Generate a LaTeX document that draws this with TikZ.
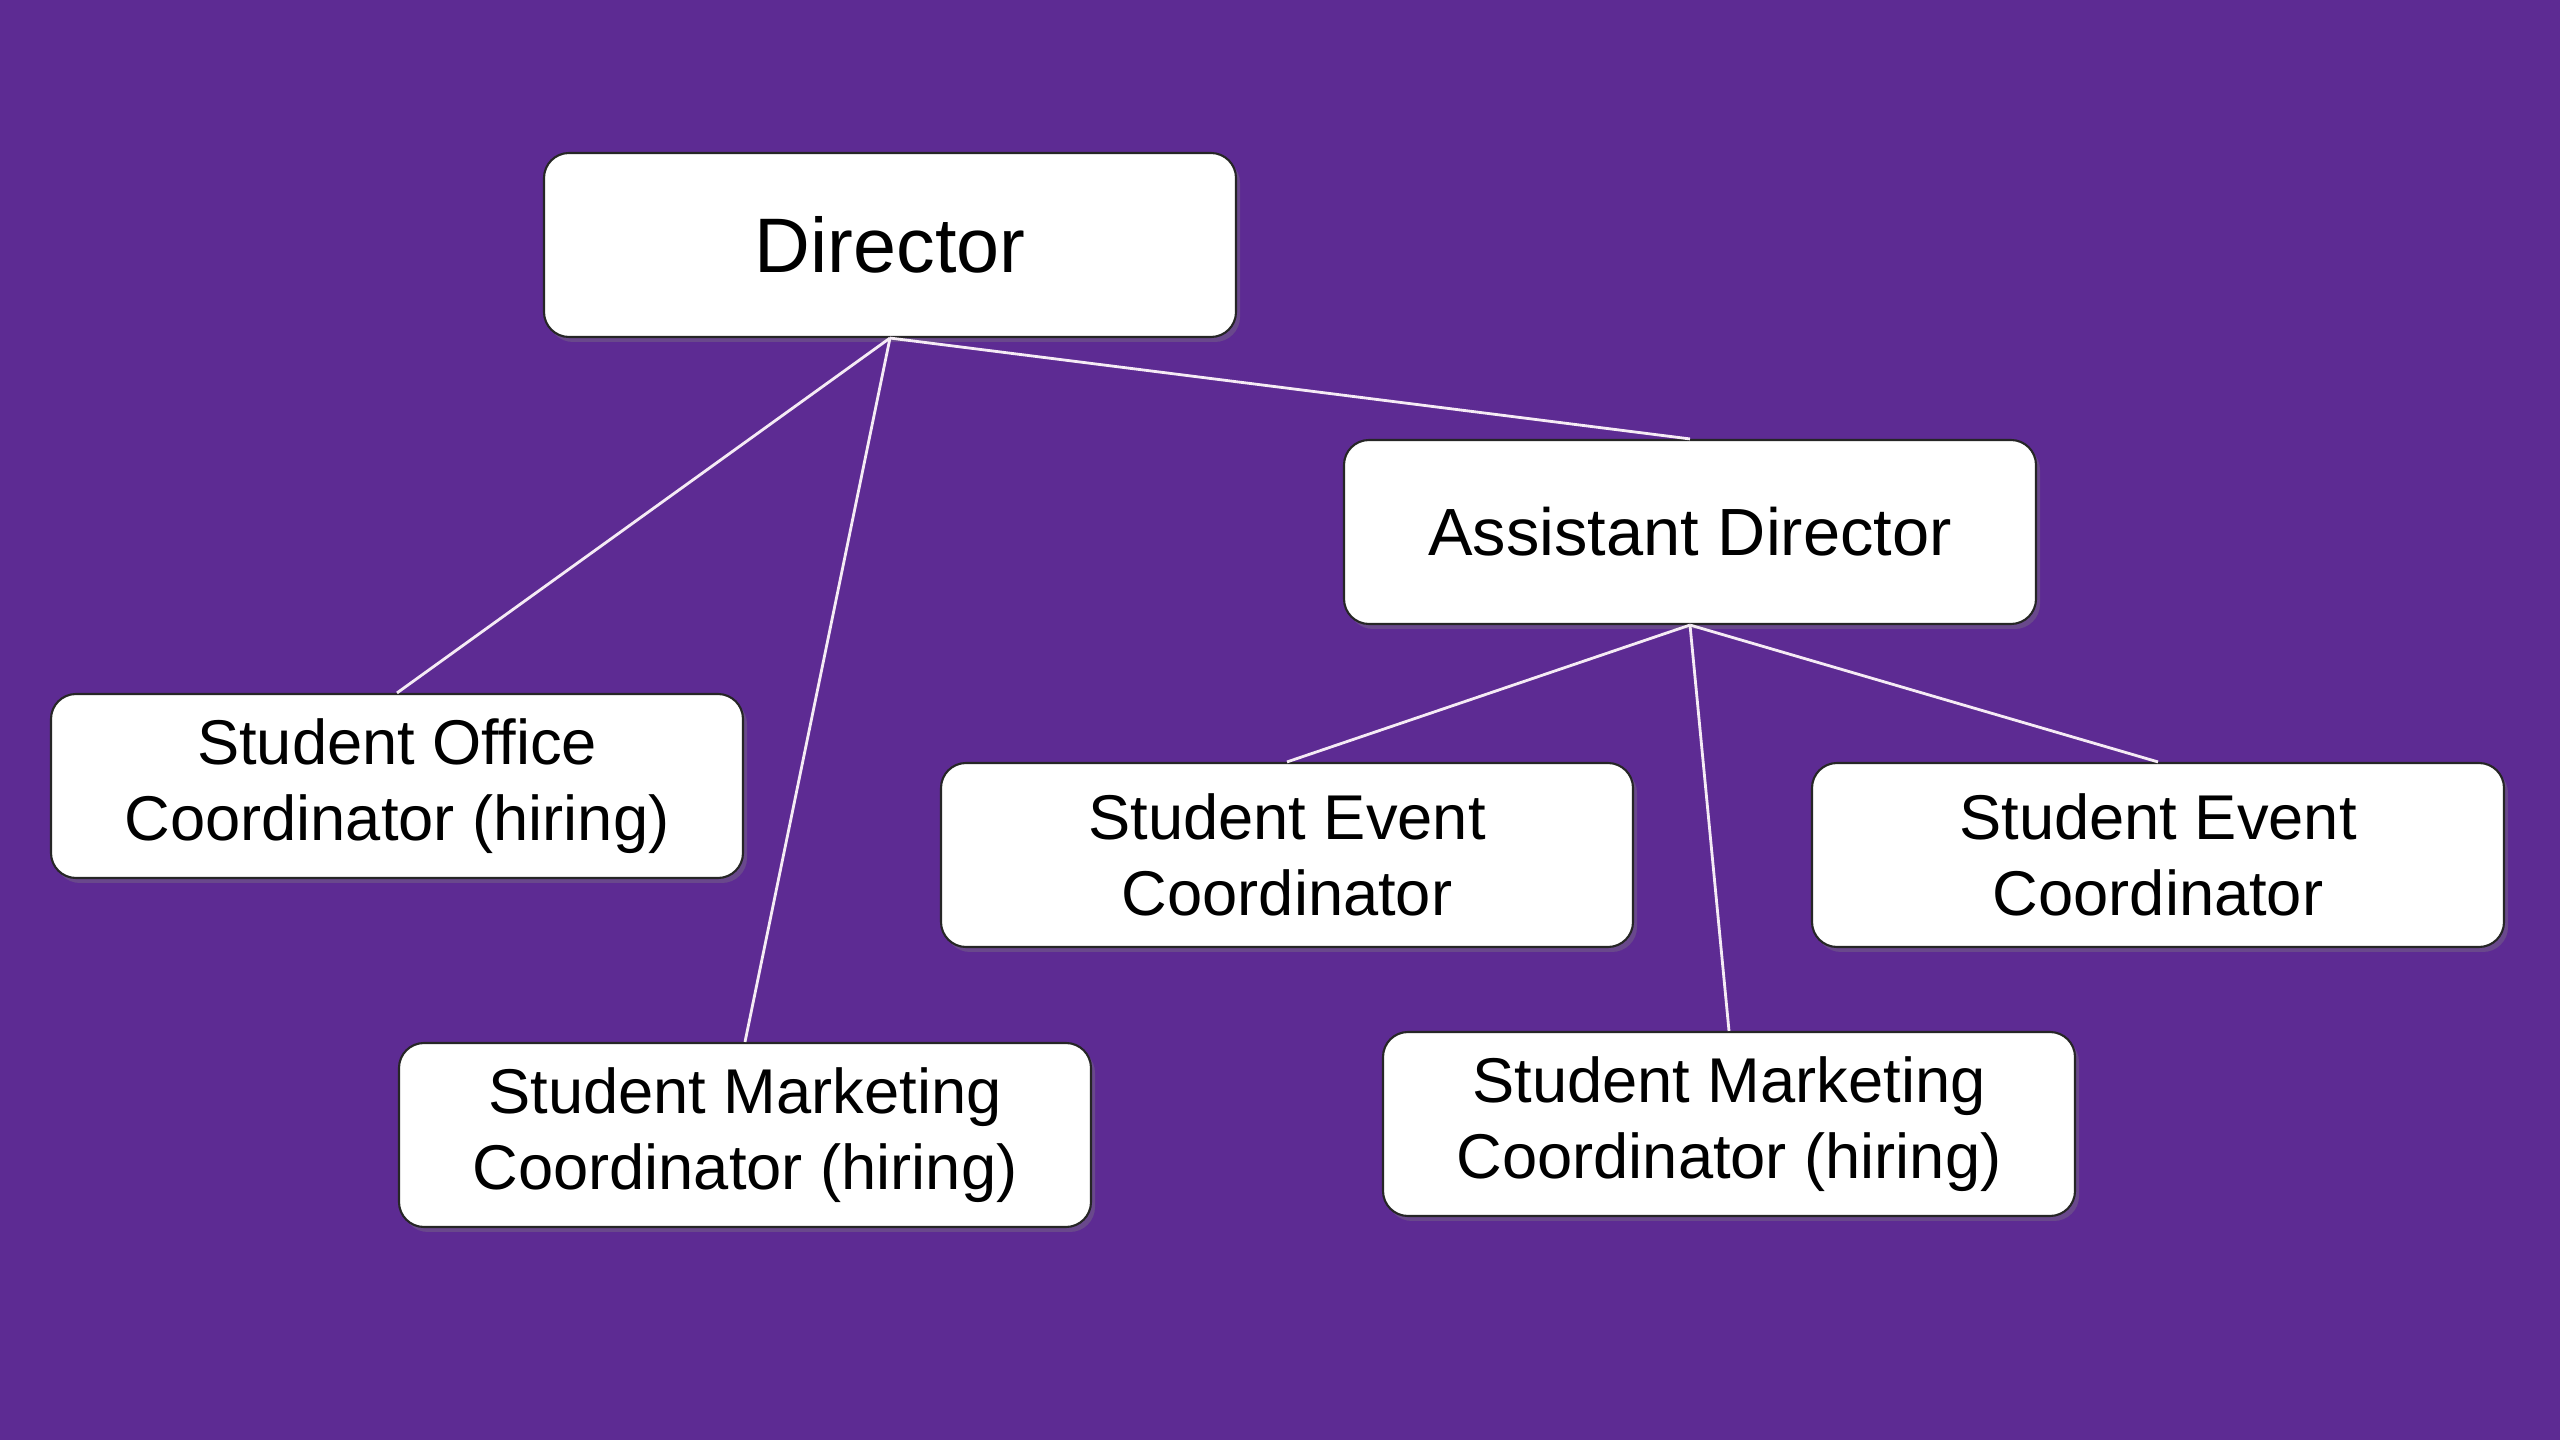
\documentclass[tikz,border=0pt]{standalone}
\usepackage{fontspec}
\setmainfont{Liberation Sans}
\usepackage{xcolor}
\usepackage{tikz}
\usetikzlibrary{positioning,shadows}

\definecolor{bgpurple}{RGB}{93,43,147}

\begin{document}
\begin{tikzpicture}[
    role/.style={draw=black!85, line width=0.6pt, fill=white, rounded corners=0.25cm,
      minimum width=6.92cm, minimum height=1.84cm, align=center,
      font=\fontsize{18}{21.8}\selectfont,
      drop shadow={shadow xshift=0.04cm, shadow yshift=-0.05cm, opacity=0.35}},
    link/.style={draw=white!92!violet, line width=0.8pt}
  ]
    \fill[bgpurple] (0,0) rectangle (25.6,14.4);
    \useasboundingbox (0,0) rectangle (25.6,14.4);
    \node[role, font=\fontsize{22}{26}\selectfont] (dir) at (8.90,11.95) {Director};
    \node[role, font=\fontsize{19}{23}\selectfont] (adir) at (16.90,9.08) {Assistant Director};
    \node[role] (office) at (3.97,6.54) {Student Office\\Coordinator (hiring)};
    \node[role] (mktl) at (7.45,3.05) {Student Marketing\\Coordinator (hiring)};
    \node[role] (evt1) at (12.87,5.85) {Student Event\\Coordinator};
    \node[role] (evt2) at (21.58,5.85) {Student Event\\Coordinator};
    \node[role] (mktr) at (17.29,3.16) {Student Marketing\\Coordinator (hiring)};
    % reporting lines
    \foreach \kid in {office,mktl,adir}
      \draw[link] (dir.south) -- (\kid.north);
    \foreach \kid in {evt1,evt2,mktr}
      \draw[link] (adir.south) -- (\kid.north);
  \end{tikzpicture}
\end{document}
